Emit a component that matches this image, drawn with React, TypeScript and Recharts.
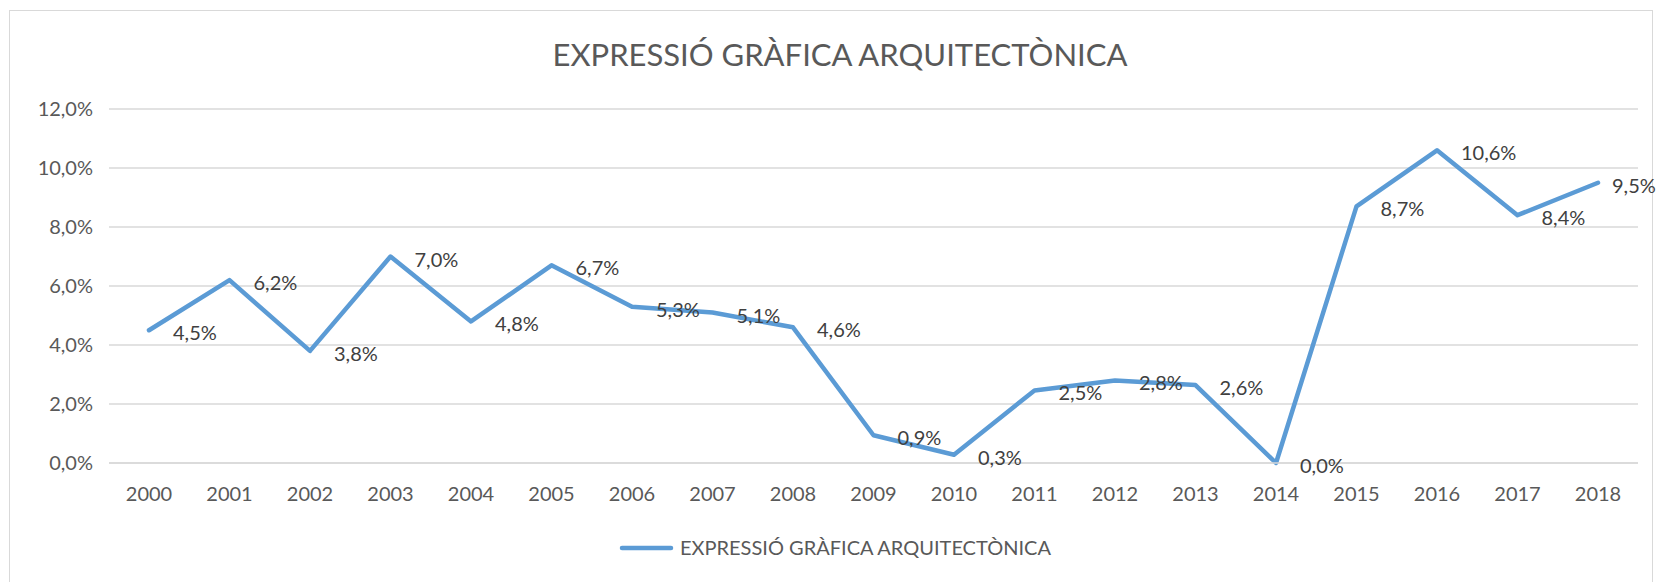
import { CartesianGrid, LabelList, Line, LineChart, XAxis, YAxis } from "recharts";

const years = [
  "2000", "2001", "2002", "2003", "2004", "2005", "2006", "2007", "2008", "2009",
  "2010", "2011", "2012", "2013", "2014", "2015", "2016", "2017", "2018",
];
// percentatge
const values = [
  4.5, 6.2, 3.8, 7.0, 4.8, 6.7, 5.3, 5.1, 4.6, 0.94,
  0.28, 2.46, 2.8, 2.64, 0.0, 8.7, 10.6, 8.4, 9.5,
];
const yTicks = [0, 2, 4, 6, 8, 10, 12];
const seriesName = "EXPRESSIÓ GRÀFICA ARQUITECTÒNICA";

const data = years.map((year, i) => ({ year, value: values[i] }));

const pct = (v: number) => `${v.toFixed(1).replace(".", ",")}%`;

const FONT = "Lato, 'Open Sans', sans-serif";
const BLUE = "#5B9BD5";

function ValueLabel(props: any) {
  const { x, y, value, index } = props;
  const dx = index === values.length - 1 ? 14 : 24;
  return (
    <text
      x={x + dx}
      y={y + 2}
      dominantBaseline="central"
      fill="#404040"
      fontSize={20}
      fontFamily={FONT}
    >
      {pct(value)}
    </text>
  );
}

export default function App() {
  return (
    <div style={{ position: "absolute", left: 0, top: 0, width: 1662, height: 582, background: "#fff" }}>
      <div
        style={{
          position: "absolute",
          left: 9,
          top: 10,
          width: 1642,
          height: 600,
          border: "1px solid #D9D9D9",
        }}
      />
      <div style={{ position: "absolute", left: 0, top: 0 }}>
        <LineChart
          width={1662}
          height={582}
          data={data}
          margin={{ top: 109, right: 24, left: 9, bottom: 79 }}
        >
          <CartesianGrid vertical={false} stroke="#D9D9D9" strokeWidth={1.5} />
          <XAxis
            dataKey="year"
            height={40}
            padding={{ left: 40, right: 40 }}
            axisLine={{ stroke: "#D9D9D9", strokeWidth: 1.5 }}
            tickLine={false}
            tickSize={0}
            tickMargin={24}
            interval={0}
            tick={{ fill: "#595959", fontSize: 20, fontFamily: FONT }}
          />
          <YAxis
            width={100}
            domain={[0, 12]}
            ticks={yTicks}
            tickFormatter={pct}
            axisLine={false}
            tickLine={false}
            tickSize={0}
            tickMargin={16}
            tick={{ fill: "#595959", fontSize: 20, fontFamily: FONT }}
          />
          <Line
            type="linear"
            dataKey="value"
            name={seriesName}
            stroke={BLUE}
            strokeWidth={4.5}
            strokeLinecap="round"
            strokeLinejoin="round"
            dot={false}
            activeDot={false}
            isAnimationActive={false}
          >
            <LabelList dataKey="value" content={ValueLabel} />
          </Line>
        </LineChart>
      </div>
      <svg
        width={1662}
        height={582}
        style={{ position: "absolute", left: 0, top: 0, pointerEvents: "none" }}
      >
        <text x={840} y={66} textAnchor="middle" fill="#595959" fontSize={31} fontFamily={FONT}>
          {seriesName}
        </text>
        <line x1={622} y1={548} x2={671} y2={548} stroke={BLUE} strokeWidth={4.5} strokeLinecap="round" />
        <text x={680} y={555} fill="#595959" fontSize={20} fontFamily={FONT}>
          {seriesName}
        </text>
      </svg>
    </div>
  );
}
